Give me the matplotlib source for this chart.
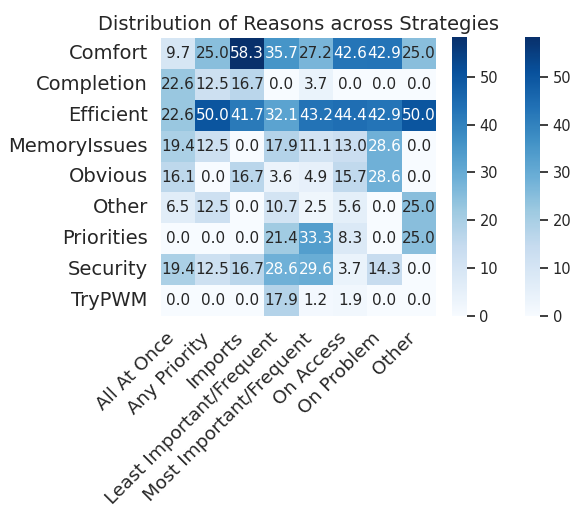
import numpy as np
import matplotlib
matplotlib.use("Agg")
import matplotlib.pyplot as plt
import seaborn as sns

sns.set_theme(style="white")

strategies = ["All At Once", "Any Priority", "Imports", "Least Important/Frequent",
              "Most Important/Frequent", "On Access", "On Problem", "Other"]
reasons = ["Comfort", "Completion", "Efficient", "MemoryIssues", "Obvious",
           "Other", "Priorities", "Security", "TryPWM"]

comfort = [9.7, 25.0, 58.3, 35.7, 27.2, 42.6, 42.9, 25.0]
completion = [22.6, 12.5, 16.7, 0.0, 3.7, 0.0, 0.0, 0.0]
efficient = [22.6, 50.0, 41.7, 32.1, 43.2, 44.4, 42.9, 50.0]
memory_issues = [19.4, 12.5, 0.0, 17.9, 11.1, 13.0, 28.6, 0.0]
obvious = [16.1, 0.0, 16.7, 3.6, 4.9, 15.7, 28.6, 0.0]
other = [6.5, 12.5, 0.0, 10.7, 2.5, 5.6, 0.0, 25.0]
priorities = [0.0, 0.0, 0.0, 21.4, 33.3, 8.3, 0.0, 25.0]
security = [19.4, 12.5, 16.7, 28.6, 29.6, 3.7, 14.3, 0.0]
try_pwm = [0.0, 0.0, 0.0, 17.9, 1.2, 1.9, 0.0, 0.0]

data = np.array([comfort, completion, efficient, memory_issues, obvious,
                 other, priorities, security, try_pwm])

W, H = 570, 508
fig = plt.figure(figsize=(W / 100, H / 100), dpi=100)
ax = fig.add_axes([161 / W, 1 - 316 / H, 275 / W, 278 / H])
cax1 = fig.add_axes([452 / W, 1 - 316 / H, 15 / W, 279 / H])
cax2 = fig.add_axes([525 / W, 1 - 316 / H, 15 / W, 279 / H])

sns.heatmap(data, annot=True, fmt=".1f", cmap="Blues", ax=ax, cbar_ax=cax1,
            xticklabels=strategies, yticklabels=reasons,
            annot_kws={"size": 11})
fig.colorbar(ax.collections[0], cax=cax2)

for c in (cax1, cax2):
    c.tick_params(labelsize=10.5, pad=3)
    c.set_ylim(0, data.max())
    for s in c.spines.values():
        s.set_visible(False)

ax.set_title("Distribution of Reasons across Strategies", fontsize=14)
ax.set_xticklabels(strategies, rotation=45, ha="right", fontsize=13.3)
ax.set_yticklabels(reasons, rotation=0, fontsize=14)

plt.savefig("out.png", dpi=100)
